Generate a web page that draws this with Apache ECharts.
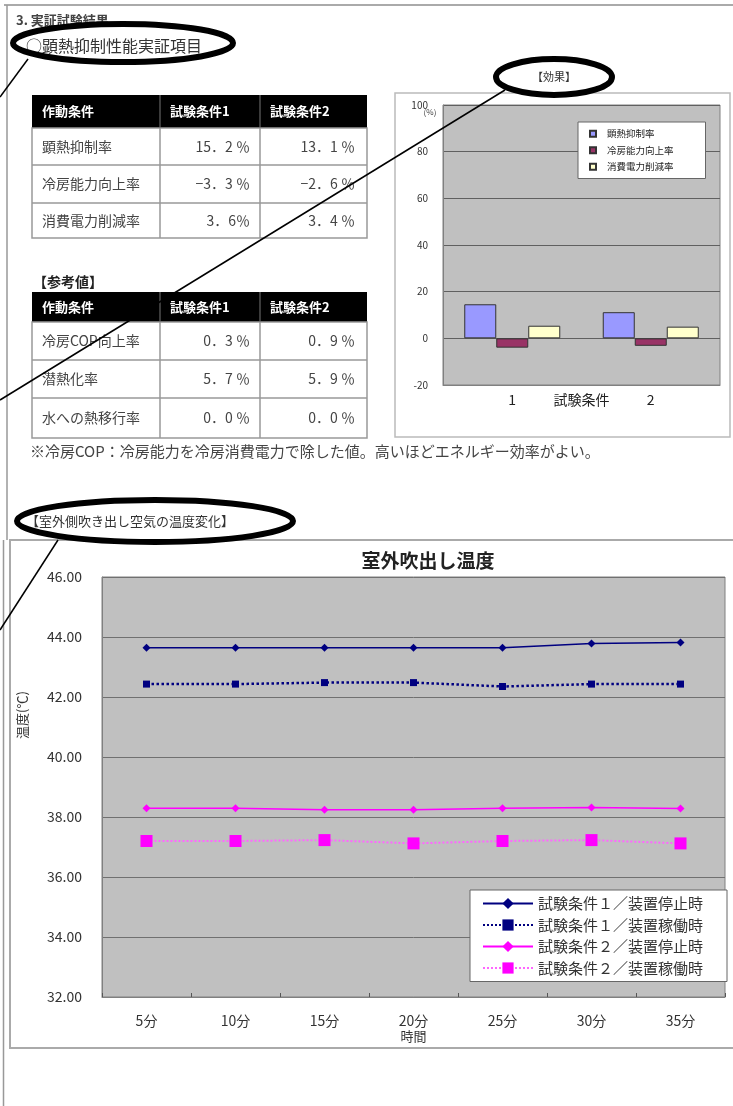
<!DOCTYPE html>
<html><head><meta charset="utf-8">
<script src="https://cdn.jsdelivr.net/npm/echarts@6/dist/echarts.min.js"></script>
<style>html,body{margin:0;padding:0;background:#fff}#c{width:733px;height:1106px}</style>
</head><body><div id="c"></div>
<script>
const FONT = '"Noto Sans CJK JP", "Noto Sans", sans-serif';

// ---- bar chart data ----
const barCategories = ['1', '2'];
const barSeriesNames = ['顕熱抑制率', '冷房能力向上率', '消費電力削減率'];
const barSensible = [14.6, 11.2];
const barCooling = [-4.0, -3.2];
const barPower = [5.4, 5.0];

// ---- line chart data ----
const timeCategories = ['5分', '10分', '15分', '20分', '25分', '30分', '35分'];
const lineNames = ['試験条件１／装置停止時', '試験条件１／装置稼働時', '試験条件２／装置停止時', '試験条件２／装置稼働時'];
const cond1Stop = [43.64, 43.64, 43.64, 43.64, 43.64, 43.78, 43.82];
const cond1Run = [42.43, 42.43, 42.48, 42.48, 42.35, 42.43, 42.43];
const cond2Stop = [38.29, 38.29, 38.24, 38.24, 38.29, 38.32, 38.28];
const cond2Run = [37.20, 37.20, 37.23, 37.12, 37.20, 37.23, 37.12];

// ---- tables ----
const tableHeader = ['作動条件', '試験条件1', '試験条件2'];
const table1Rows = [
  ['顕熱抑制率', '15．2 ％', '13．1 ％'],
  ['冷房能力向上率', '−3．3 ％', '−2．6 ％'],
  ['消費電力削減率', '3．6％', '3．4 ％']
];
const table2Rows = [
  ['冷房COP向上率', '0．3 ％', '0．9 ％'],
  ['潜熱化率', '5．7 ％', '5．9 ％'],
  ['水への熱移行率', '0．0 ％', '0．0 ％']
];

const G = [];
function txt(x, y, text, o) {
  o = o || {};
  G.push({
    type: 'text', x: x, y: y, z: o.z || 5, rotation: o.rotation || 0,
    style: {
      text: text, fill: o.fill || '#333', fontSize: o.size || 13,
      fontFamily: FONT, fontWeight: o.weight || 'normal',
      align: o.align || 'left', verticalAlign: o.va || 'middle'
    }
  });
}
function rect(x, y, w, h, fill, stroke, lw, z) {
  G.push({ type: 'rect', z: z || 1, shape: { x: x, y: y, width: w, height: h },
    style: { fill: fill, stroke: stroke || null, lineWidth: lw || 1 } });
}
function line(x1, y1, x2, y2, stroke, lw, z) {
  G.push({ type: 'line', z: z || 2, shape: { x1: x1, y1: y1, x2: x2, y2: y2 },
    style: { stroke: stroke, lineWidth: lw } });
}
function table(cols, rows, header, body) {
  const x0 = cols[0], x1 = cols[cols.length - 1];
  rect(x0, rows[0], x1 - x0, rows[1] - rows[0], '#000');
  rect(x0, rows[1], x1 - x0, rows[rows.length - 1] - rows[1], '#fff', '#999', 1.5);
  for (let i = 2; i < rows.length - 1; i++) line(x0, rows[i], x1, rows[i], '#999', 1.5);
  for (let j = 1; j < cols.length - 1; j++) {
    line(cols[j], rows[0], cols[j], rows[1], '#777', 1);
    line(cols[j], rows[1], cols[j], rows[rows.length - 1], '#999', 1.5);
  }
  header.forEach((h, j) => txt(cols[j] + 10, (rows[0] + rows[1]) / 2, h, { fill: '#fff', size: 13, weight: 'bold' }));
  body.forEach((r, i) => {
    const cy = (rows[i + 1] + rows[i + 2]) / 2;
    txt(cols[0] + 10, cy, r[0], { size: 14, fill: '#444' });
    txt(cols[2] - 10, cy, r[1], { size: 14, fill: '#444', align: 'right' });
    txt(cols[3] - 12, cy, r[2], { size: 14, fill: '#444', align: 'right' });
  });
}

// page border
line(4, 5, 733, 5, '#aaa', 2);
line(7, 5, 7, 540, '#999', 1.5);
line(3.5, 540, 3.5, 1106, '#999', 1.5);
// headings
txt(16, 20, '3. 実証試験結果', { size: 13, fill: '#444', weight: 'bold' });
txt(26, 46, '○顕熱抑制性能実証項目', { size: 16, fill: '#333' });
txt(554, 77, '【効果】', { size: 11, fill: '#333', align: 'center' });
table([32, 160, 260, 367], [95, 128, 165, 203, 238], tableHeader, table1Rows);
txt(33, 282, '【参考値】', { size: 14, fill: '#222', weight: 'bold' });
table([32, 160, 260, 367], [292, 322, 360, 398, 438], tableHeader, table2Rows);
txt(30, 451, '※冷房COP：冷房能力を冷房消費電力で除した値。高いほどエネルギー効率がよい。', { size: 15, fill: '#444' });
txt(26, 521, '【室外側吹き出し空気の温度変化】', { size: 13, fill: '#333' });
// chart frames
rect(395, 93, 335, 344, 'none', '#bbb', 1.5, 0);
rect(10, 540, 730, 508, 'none', '#aaa', 2, 0);
// axis side texts
txt(430, 112, '(%)', { size: 8, fill: '#444', align: 'center' });
txt(22, 715, '温度(℃)', { size: 13, fill: '#333', align: 'center', rotation: Math.PI / 2 });
// annotations
G.push({ type: 'ellipse', z: 50, shape: { cx: 123, cy: 43, rx: 110, ry: 19 }, style: { fill: 'none', stroke: '#000', lineWidth: 6 } });
G.push({ type: 'ellipse', z: 50, shape: { cx: 554, cy: 77, rx: 58, ry: 18 }, style: { fill: 'none', stroke: '#000', lineWidth: 6 } });
G.push({ type: 'ellipse', z: 50, shape: { cx: 155, cy: 521, rx: 138, ry: 21 }, style: { fill: 'none', stroke: '#000', lineWidth: 6 } });
line(28, 59, 0, 97, '#000', 1.5, 50);
line(505, 90, 0, 400, '#000', 1.5, 50);
line(58, 540, 0, 630, '#000', 1.5, 50);

const chart = echarts.init(document.getElementById('c'), null, { renderer: 'canvas' });
chart.setOption({
  animation: false,
  textStyle: { fontFamily: FONT },
  title: { text: '室外吹出し温度', left: 423, top: 546, textAlign: 'center',
    textStyle: { fontSize: 19, fontWeight: 'bold', color: '#222', fontFamily: FONT } },
  graphic: { elements: G },
  legend: [
    { data: barSeriesNames, orient: 'vertical', left: 578, top: 122, icon: 'rect',
      itemWidth: 6, itemHeight: 6, itemGap: 7, selectedMode: false,
      textStyle: { fontSize: 9.5, color: '#222', padding: [0, 0, 0, 6] },
      backgroundColor: '#fff', borderColor: '#666', borderWidth: 1, padding: [7, 32, 7, 11] },
    { data: lineNames, orient: 'vertical', left: 470, top: 890,
      itemWidth: 50, itemHeight: 14, itemGap: 6.5, selectedMode: false,
      textStyle: { fontSize: 15, color: '#333' },
      backgroundColor: '#fff', borderColor: '#666', borderWidth: 1, padding: [6, 24, 6, 12] }
  ],
  grid: [
    { left: 443, top: 105, width: 277, height: 280, show: true, backgroundColor: '#c0c0c0', borderColor: '#808080', borderWidth: 1 },
    { left: 102, top: 577, width: 623, height: 420, show: true, backgroundColor: '#c0c0c0', borderColor: '#808080', borderWidth: 1 }
  ],
  xAxis: [
    { type: 'category', gridIndex: 0, data: barCategories,
      axisLine: { show: true, onZero: false, lineStyle: { color: '#808080' } }, axisTick: { show: false },
      axisLabel: { fontSize: 14, color: '#222', margin: 8 },
      name: '試験条件', nameLocation: 'middle', nameGap: 8, nameMoveOverlap: false,
      nameTextStyle: { fontSize: 14, color: '#222', verticalAlign: 'top' } },
    { type: 'category', gridIndex: 1, data: timeCategories, boundaryGap: true,
      axisLine: { show: true, lineStyle: { color: '#808080' } },
      axisTick: { show: true, inside: true, length: 4, lineStyle: { color: '#555' } },
      axisLabel: { fontSize: 14, color: '#333', margin: 17 },
      name: '時間', nameLocation: 'middle', nameGap: 33, nameMoveOverlap: false,
      nameTextStyle: { fontSize: 13, color: '#333', verticalAlign: 'top' } }
  ],
  yAxis: [
    { type: 'value', gridIndex: 0, min: -20, max: 100, interval: 20,
      axisLine: { show: true, lineStyle: { color: '#808080' } }, axisTick: { show: false },
      axisLabel: { fontSize: 10, color: '#333', margin: 15 },
      splitLine: { lineStyle: { color: '#606060', width: 1 } } },
    { type: 'value', gridIndex: 1, min: 32, max: 46, interval: 2,
      axisLine: { show: true, lineStyle: { color: '#808080' } }, axisTick: { show: false },
      axisLabel: { fontSize: 14, color: '#333', margin: 20, formatter: v => v.toFixed(2) },
      splitLine: { lineStyle: { color: '#707070', width: 1 } } }
  ],
  series: [
    { name: barSeriesNames[0], type: 'bar', xAxisIndex: 0, yAxisIndex: 0, data: barSensible, barWidth: 32, barGap: '0%',
      itemStyle: { color: '#9999ff', borderColor: '#333', borderWidth: 1 } },
    { name: barSeriesNames[1], type: 'bar', xAxisIndex: 0, yAxisIndex: 0, data: barCooling, barWidth: 32, barGap: '0%',
      itemStyle: { color: '#993366', borderColor: '#333', borderWidth: 1 } },
    { name: barSeriesNames[2], type: 'bar', xAxisIndex: 0, yAxisIndex: 0, data: barPower, barWidth: 32, barGap: '0%',
      itemStyle: { color: '#ffffcc', borderColor: '#333', borderWidth: 1 } },
    { name: lineNames[0], type: 'line', xAxisIndex: 1, yAxisIndex: 1, data: cond1Stop,
      symbol: 'diamond', symbolSize: 8, color: '#000080', lineStyle: { color: '#000080', width: 1.5 } },
    { name: lineNames[1], type: 'line', xAxisIndex: 1, yAxisIndex: 1, data: cond1Run,
      symbol: 'rect', symbolSize: 7, color: '#000080', lineStyle: { color: '#000080', width: 2.5, type: 'dotted' } },
    { name: lineNames[2], type: 'line', xAxisIndex: 1, yAxisIndex: 1, data: cond2Stop,
      symbol: 'diamond', symbolSize: 8, color: '#ff00ff', lineStyle: { color: '#ff00ff', width: 1.5 } },
    { name: lineNames[3], type: 'line', xAxisIndex: 1, yAxisIndex: 1, data: cond2Run,
      symbol: 'rect', symbolSize: 12, color: '#ff00ff', lineStyle: { color: '#ff66ff', width: 2, type: 'dotted' } }
  ]
});
</script></body></html>
